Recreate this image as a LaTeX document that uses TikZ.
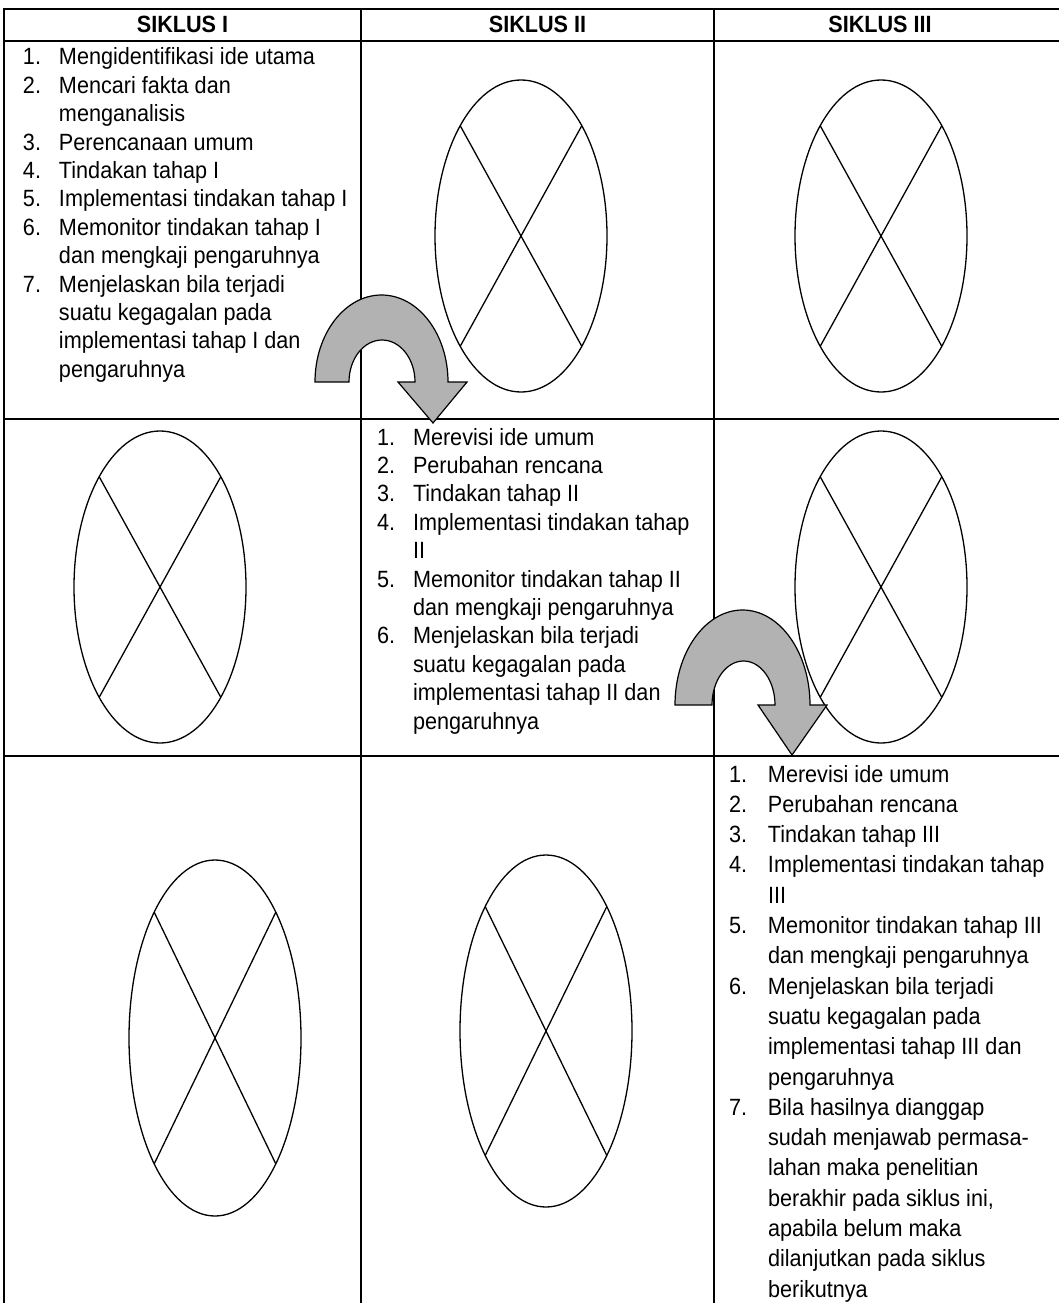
\documentclass[tikz,border=0pt]{standalone}
\usepackage{fontspec}
\setmainfont{Liberation Sans}[FakeStretch=0.92]
\usetikzlibrary{positioning,shapes.geometric}

\newcommand{\cellfont}{\fontsize{23.5pt}{28.4pt}\selectfont}

\tikzset{
  grid/.style={line width=2pt, line cap=rect},
  cross/.style={ellipse, draw, line width=1.3pt, inner sep=0pt, outer sep=0pt,
    minimum width=172pt, minimum height=312pt},
  colhead/.style={font=\cellfont\bfseries, anchor=base, inner sep=0pt},
  cell/.style={font=\cellfont, anchor=base west, inner sep=0pt, outer sep=0pt},
  turnarrow/.style={draw, line width=1.2pt, fill=black!30, line join=miter},
}
\newcommand{\crossout}[1]{%
  \draw[line width=1.3pt] (#1.north east) -- (#1.south west)
    (#1.north west) -- (#1.south east);}

\begin{document}
\begin{tikzpicture}[x=1pt,y=-1pt]
  \useasboundingbox (0,0) rectangle (1059,1303);
  % table grid
  \draw[grid] (4,9) -- (1070,9) (4,41) -- (1070,41)
    (4,419) -- (1070,419) (4,756) -- (1070,756);
  \draw[grid] (4,9) -- (4,1320) (361,9) -- (361,1320) (714,9) -- (714,1320);

  % headings
  \node[colhead] (hA) at (182.5,33) {SIKLUS I};
  \node[colhead] (hB) at (537.5,33) {SIKLUS II};
  \node[colhead] (hC) at (880,33) {SIKLUS III};

  % siklus I
  \node[cell] (tA) at (23,65) {%
    \begin{tabular}[t]{@{}p{36pt}@{}l@{}}
      1. & Mengidentifikasi ide utama\\
      2. & Mencari fakta dan\\
         & menganalisis\\
      3. & Perencanaan umum\\
      4. & Tindakan tahap I\\
      5. & Implementasi tindakan tahap I\\
      6. & Memonitor tindakan tahap I\\
         & dan mengkaji pengaruhnya\\
      7. & Menjelaskan bila terjadi\\
         & suatu kegagalan pada\\
         & implementasi tahap I dan\\
         & pengaruhnya
    \end{tabular}};

  % siklus II
  \node[cell] (tB) at (377,445) {%
    \begin{tabular}[t]{@{}p{36pt}@{}l@{}}
      1. & Merevisi ide umum\\
      2. & Perubahan rencana\\
      3. & Tindakan tahap II\\
      4. & Implementasi tindakan tahap\\
         & II\\
      5. & Memonitor tindakan tahap II\\
         & dan mengkaji pengaruhnya\\
      6. & Menjelaskan bila terjadi\\
         & suatu kegagalan pada\\
         & implementasi tahap II dan\\
         & pengaruhnya
    \end{tabular}};

  % siklus III
  \node[cell, font=\fontsize{23.5pt}{30.3pt}\selectfont] (tC) at (729,782) {%
    \begin{tabular}[t]{@{}p{39pt}@{}l@{}}
      1. & Merevisi ide umum\\
      2. & Perubahan rencana\\
      3. & Tindakan tahap III\\
      4. & Implementasi tindakan tahap\\
         & III\\
      5. & Memonitor tindakan tahap III\\
         & dan mengkaji pengaruhnya\\
      6. & Menjelaskan bila terjadi\\
         & suatu kegagalan pada\\
         & implementasi tahap III dan\\
         & pengaruhnya\\
      7. & Bila hasilnya dianggap\\
         & sudah menjawab permasa-\\
         & lahan maka penelitian\\
         & berakhir pada siklus ini,\\
         & apabila belum maka\\
         & dilanjutkan pada siklus\\
         & berikutnya
    \end{tabular}};

  % empty cells
  \node[cross] (eB1) at (521,236) {};
  \node[cross] (eC1) at (881,236) {};
  \node[cross] (eA2) at (160,587) {};
  \node[cross] (eC2) at (881,587) {};
  \node[cross, minimum height=356pt] (eA3) at (215,1038) {};
  \node[cross, minimum height=352pt] (eB3) at (546,1031) {};
  \foreach \e in {eB1,eC1,eA2,eC2,eA3,eB3} {\crossout{\e}}

  % turn arrows
  \path[turnarrow] (315,382) arc[start angle=180, end angle=360, x radius=66.5, y radius=87]
    -- (467,382) -- (433,423) -- (398,382) -- (415,382)
    arc[start angle=0, end angle=-180, x radius=33, y radius=42] -- cycle;
  \path[turnarrow] (675,705) arc[start angle=180, end angle=360, x radius=67.5, y radius=95]
    -- (827,705) -- (792,755) -- (758,705) -- (775,705)
    arc[start angle=0, end angle=-180, x radius=31.5, y radius=44] -- cycle;
\end{tikzpicture}
\end{document}
